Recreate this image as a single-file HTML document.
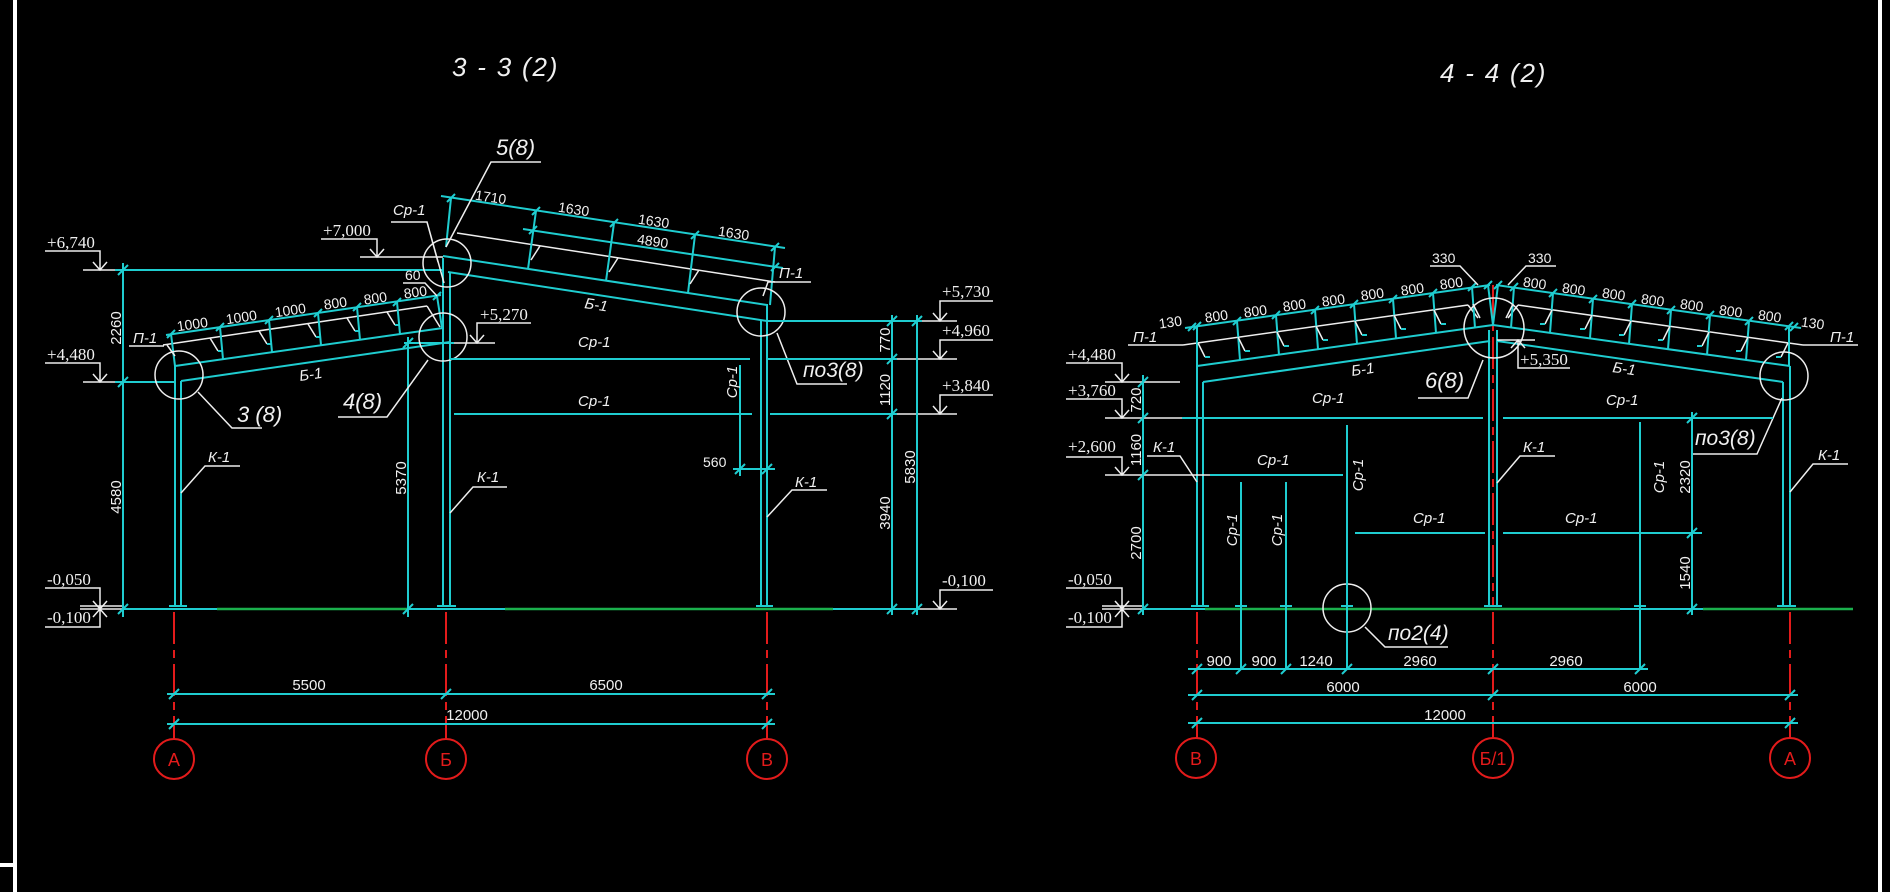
<!DOCTYPE html>
<html><head><meta charset="utf-8">
<style>
html,body{margin:0;padding:0;background:#000;}
svg{display:block}
.c{stroke:#1fcdd0;stroke-width:2;fill:none}
.w{stroke:#eeeeee;stroke-width:1.5;fill:none}
.r{stroke:#e31b1b;stroke-width:2;fill:none}
.rd{stroke:#e31b1b;stroke-width:2;fill:none;stroke-dasharray:32 6 8 6}
.g{stroke:#1bb04d;stroke-width:2.5;fill:none}
text{fill:#f0f0f0;font-family:"Liberation Sans","DejaVu Sans",sans-serif}
.d{font-size:15px}
.ds{font-size:14px}
.l{font-size:15px;font-style:italic}
.b{font-size:22px;font-style:italic}
.e{font-family:"Liberation Serif",serif;font-size:17px}
.ti{font-size:26px;font-style:italic;letter-spacing:1.8px}
.ax{font-size:18px;fill:#e31b1b}
</style></head><body>
<svg width="1890" height="892" viewBox="0 0 1890 892" xmlns="http://www.w3.org/2000/svg">
<rect x="0" y="0" width="1890" height="892" fill="#000"/>
<!-- frame -->
<rect x="13" y="0" width="4" height="892" fill="#fff"/>
<rect x="0" y="863" width="13" height="4" fill="#fff"/>
<rect x="1878" y="0" width="4" height="892" fill="#fff"/>

<!-- titles -->
<text class="ti" x="452" y="76">3 - 3 (2)</text>
<text class="ti" x="1440" y="82">4 - 4 (2)</text>

<!-- ================= LEFT DIAGRAM 3-3 ================= -->
<!-- ground -->
<line class="w" x1="80" y1="606" x2="123" y2="606"/>
<line class="w" x1="80" y1="609" x2="123" y2="609"/>
<line class="c" x1="123" y1="609" x2="217" y2="609"/>
<line class="g" x1="217" y1="609" x2="408" y2="609"/>
<line class="c" x1="408" y1="609" x2="505" y2="609"/>
<line class="g" x1="505" y1="609" x2="833" y2="609"/>
<line class="c" x1="833" y1="609" x2="920" y2="609"/>
<line class="w" x1="920" y1="609" x2="957" y2="609"/>

<!-- columns -->
<line class="c" x1="175" y1="366" x2="175" y2="606"/>
<line class="c" x1="181" y1="381" x2="181" y2="606"/>
<line class="c" x1="169" y1="606" x2="187" y2="606"/>
<line class="c" x1="443" y1="258" x2="443" y2="606"/>
<line class="c" x1="450" y1="272" x2="450" y2="606"/>
<line class="c" x1="437" y1="606" x2="456" y2="606"/>
<line class="c" x1="761" y1="320" x2="761" y2="606"/>
<line class="c" x1="767" y1="304" x2="767" y2="606"/>
<line class="c" x1="756" y1="606" x2="773" y2="606"/>

<!-- axes -->
<line class="rd" x1="174" y1="612" x2="174" y2="739"/>
<line class="rd" x1="446" y1="612" x2="446" y2="739"/>
<line class="rd" x1="767" y1="612" x2="767" y2="739"/>
<circle class="r" cx="174" cy="759" r="20"/>
<circle class="r" cx="446" cy="759" r="20"/>
<circle class="r" cx="767" cy="759" r="20"/>
<text class="ax" x="174" y="766" text-anchor="middle">А</text>
<text class="ax" x="446" y="766" text-anchor="middle">Б</text>
<text class="ax" x="767" y="766" text-anchor="middle">В</text>

<!-- left vertical dims -->
<line class="c" x1="123" y1="263" x2="123" y2="617"/>
<path class="c" d="M118,275 L128,265 M118,387 L128,377 M118,614 L128,604"/>
<line class="c" x1="115" y1="270" x2="443" y2="270"/>
<line class="w" x1="83" y1="270" x2="115" y2="270"/>
<line class="c" x1="115" y1="382" x2="175" y2="382"/>
<line class="w" x1="83" y1="382" x2="115" y2="382"/>
<text class="d" text-anchor="middle" transform="translate(121,328) rotate(-90)">2260</text>
<text class="d" text-anchor="middle" transform="translate(121,497) rotate(-90)">4580</text>

<!-- elevations left -->
<text class="e" x="47" y="248">+6,740</text>
<path class="w" d="M45,251 H100 V270 M93,262 L100,270 L107,262"/>
<text class="e" x="47" y="360">+4,480</text>
<path class="w" d="M45,363 H100 V382 M93,374 L100,382 L107,374"/>
<text class="e" x="47" y="585">-0,050</text>
<path class="w" d="M45,588 H100 V609 M93,601 L100,609 L107,601"/>
<text class="e" x="47" y="623">-0,100</text>
<path class="w" d="M45,627 H100 V609 M93,617 L100,609 L107,617"/>

<!-- +7,000 -->
<text class="e" x="323" y="236">+7,000</text>
<path class="w" d="M321,239 H377 V257 M370,249 L377,257 L384,249"/>
<line class="w" x1="360" y1="257" x2="443" y2="257"/>

<!-- Cp-1 top label -->
<text class="l" x="393" y="215">Ср-1</text>
<path class="w" d="M391,222 H427 L438,262 M427,222 L444,283"/>

<!-- left rafter -->
<line class="c" x1="175" y1="366" x2="443" y2="328"/>
<line class="c" x1="181" y1="381" x2="450" y2="342"/>
<line class="w" x1="163" y1="345" x2="427" y2="306"/>
<line class="w" x1="427" y1="306" x2="440" y2="327"/>
<line class="c" x1="166" y1="335" x2="441" y2="295"/>
<path class="c" d="M167,338 L175,330 M216,331 L224,323 M265,324 L273,316 M314,317 L322,309 M353,311 L361,303 M393,306 L401,298 M433,300 L441,292"/>
<path class="c" d="M171,334 L175,366 M220,327 L223,359 M269,320 L272,352 M318,313 L321,345 M357,307 L360,340 M397,302 L400,334 M437,296 L442,328"/>
<path class="w" d="M167,345 L175,356 M210,338 L218,351 M259,331 L267,344 M308,324 L316,337 M347,318 L355,331 M387,312 L395,325"/>
<path class="c" d="M218,351 H223 M267,344 H272 M316,337 H321 M355,331 H360 M395,325 H400"/>
<text class="ds" text-anchor="middle" transform="translate(193,329) rotate(-8.1)">1000</text>
<text class="ds" text-anchor="middle" transform="translate(242,322) rotate(-8.1)">1000</text>
<text class="ds" text-anchor="middle" transform="translate(291,315) rotate(-8.1)">1000</text>
<text class="ds" text-anchor="middle" transform="translate(336,308) rotate(-8.1)">800</text>
<text class="ds" text-anchor="middle" transform="translate(376,303) rotate(-8.1)">800</text>
<text class="ds" text-anchor="middle" transform="translate(416,297) rotate(-8.1)">800</text>
<text class="ds" x="405" y="280">60</text>
<path class="w" d="M403,283 H425 L437,296"/>
<text class="l" x="133" y="343">П-1</text>
<line class="w" x1="129" y1="346" x2="164" y2="346"/>
<text class="l" transform="translate(300,381) rotate(-8.1)">Б-1</text>

<!-- right rafter -->
<line class="c" x1="443" y1="256" x2="767" y2="305"/>
<line class="c" x1="448" y1="272" x2="767" y2="321"/>
<line class="w" x1="457" y1="233" x2="775" y2="282"/>
<line class="c" x1="441" y1="196" x2="785" y2="248"/>
<line class="c" x1="523" y1="229" x2="783" y2="268"/>
<path class="c" d="M447,202 L455,194 M532,215 L540,207 M610,227 L618,219 M691,239 L699,231 M771,251 L779,243 M529,234 L537,226 M771,271 L779,263"/>
<path class="c" d="M451,198 L446,247 M536,211 L528,269 M614,223 L606,281 M695,235 L688,293 M775,247 L770,305"/>
<path class="w" d="M540,246 L531,260 M618,258 L609,272 M699,270 L690,284"/>
<text class="ds" text-anchor="middle" transform="translate(490,202) rotate(8.6)">1710</text>
<text class="ds" text-anchor="middle" transform="translate(573,214) rotate(8.6)">1630</text>
<text class="ds" text-anchor="middle" transform="translate(653,226) rotate(8.6)">1630</text>
<text class="ds" text-anchor="middle" transform="translate(733,238) rotate(8.6)">1630</text>
<text class="ds" text-anchor="middle" transform="translate(652,246) rotate(8.6)">4890</text>
<text class="l" transform="translate(584,308) rotate(8.6)">Б-1</text>
<text class="l" x="779" y="278">П-1</text>
<path class="w" d="M811,282 H768 L763,296"/>

<!-- +5,270 -->
<text class="e" x="480" y="320">+5,270</text>
<path class="w" d="M531,323 H477 V343 M470,335 L477,343 L484,335"/>
<line class="w" x1="454" y1="343" x2="495" y2="343"/>
<line class="c" x1="404" y1="343" x2="454" y2="343"/>
<line class="c" x1="408" y1="337" x2="408" y2="617"/>
<path class="c" d="M403,348 L413,338 M403,614 L413,604"/>
<text class="d" text-anchor="middle" transform="translate(406,478) rotate(-90)">5370</text>

<!-- circles & labels -->
<circle class="w" cx="179" cy="375" r="24"/>
<circle class="w" cx="447" cy="263" r="24"/>
<circle class="w" cx="443" cy="337" r="24"/>
<circle class="w" cx="761" cy="312" r="24"/>
<text class="b" x="237" y="422">3 (8)</text>
<path class="w" d="M198,392 L232,428 H262"/>
<text class="b" x="343" y="409">4(8)</text>
<path class="w" d="M338,417 H387 L428,360"/>
<text class="b" x="496" y="155">5(8)</text>
<path class="w" d="M541,162 H491 L446,247"/>
<text class="b" x="803" y="377" style="font-size:21px">по3(8)</text>
<path class="w" d="M777,333 L797,384 H847"/>

<!-- Cp-1 bracing -->
<line class="c" x1="450" y1="359" x2="750" y2="359"/>
<line class="c" x1="768" y1="359" x2="897" y2="359"/>
<line class="w" x1="897" y1="359" x2="957" y2="359"/>
<line class="c" x1="454" y1="414" x2="752" y2="414"/>
<line class="c" x1="770" y1="414" x2="897" y2="414"/>
<line class="w" x1="897" y1="414" x2="957" y2="414"/>
<line class="c" x1="767" y1="321" x2="922" y2="321"/>
<line class="w" x1="922" y1="321" x2="957" y2="321"/>
<text class="l" x="578" y="347">Ср-1</text>
<text class="l" x="578" y="406">Ср-1</text>
<line class="c" x1="740" y1="365" x2="740" y2="476"/>
<text class="l" text-anchor="middle" transform="translate(737,382) rotate(-90)">Ср-1</text>
<line class="c" x1="733" y1="469" x2="775" y2="469"/>
<path class="c" d="M735,474 L745,464 M762,474 L772,464"/>
<text class="ds" x="703" y="467">560</text>

<!-- right dims left diagram -->
<line class="c" x1="892" y1="315" x2="892" y2="615"/>
<path class="c" d="M887,326 L897,316 M887,364 L897,354 M887,419 L897,409 M887,614 L897,604"/>
<line class="c" x1="917" y1="315" x2="917" y2="615"/>
<path class="c" d="M912,326 L922,316 M912,614 L922,604"/>
<text class="d" text-anchor="middle" transform="translate(890,340) rotate(-90)">770</text>
<text class="d" text-anchor="middle" transform="translate(890,390) rotate(-90)">1120</text>
<text class="d" text-anchor="middle" transform="translate(890,513) rotate(-90)">3940</text>
<text class="d" text-anchor="middle" transform="translate(915,467) rotate(-90)">5830</text>
<text class="e" x="942" y="297">+5,730</text>
<path class="w" d="M993,301 H940 V321 M933,313 L940,321 L947,313"/>
<text class="e" x="942" y="336">+4,960</text>
<path class="w" d="M993,340 H940 V359 M933,351 L940,359 L947,351"/>
<text class="e" x="942" y="391">+3,840</text>
<path class="w" d="M993,395 H940 V414 M933,406 L940,414 L947,406"/>
<text class="e" x="942" y="586">-0,100</text>
<path class="w" d="M993,590 H940 V609 M933,601 L940,609 L947,601"/>

<!-- K-1 labels -->
<text class="l" x="208" y="462">К-1</text>
<path class="w" d="M240,466 H205 L181,493"/>
<text class="l" x="477" y="482">К-1</text>
<path class="w" d="M507,487 H473 L450,513"/>
<text class="l" x="795" y="487">К-1</text>
<path class="w" d="M827,490 H792 L767,517"/>

<!-- bottom dims left -->
<line class="c" x1="167" y1="694" x2="775" y2="694"/>
<path class="c" d="M169,699 L179,689 M441,699 L451,689 M762,699 L772,689"/>
<text class="d" x="309" y="690" text-anchor="middle">5500</text>
<text class="d" x="606" y="690" text-anchor="middle">6500</text>
<line class="c" x1="167" y1="724" x2="775" y2="724"/>
<path class="c" d="M169,729 L179,719 M762,729 L772,719"/>
<text class="d" x="467" y="720" text-anchor="middle">12000</text>

<!-- ================= RIGHT DIAGRAM 4-4 ================= -->
<line class="w" x1="1102" y1="606" x2="1143" y2="606"/>
<line class="w" x1="1102" y1="609" x2="1143" y2="609"/>
<line class="c" x1="1143" y1="609" x2="1205" y2="609"/>
<line class="g" x1="1205" y1="609" x2="1620" y2="609"/>
<line class="c" x1="1620" y1="609" x2="1703" y2="609"/>
<line class="g" x1="1703" y1="609" x2="1853" y2="609"/>

<!-- columns -->
<line class="c" x1="1197" y1="366" x2="1197" y2="606"/>
<line class="c" x1="1203" y1="382" x2="1203" y2="606"/>
<line class="c" x1="1191" y1="606" x2="1209" y2="606"/>
<line class="c" x1="1489" y1="330" x2="1489" y2="606"/>
<line class="c" x1="1497" y1="330" x2="1497" y2="606"/>
<line class="rd" x1="1493" y1="285" x2="1493" y2="606"/>
<line class="c" x1="1484" y1="606" x2="1502" y2="606"/>
<line class="c" x1="1783" y1="382" x2="1783" y2="606"/>
<line class="c" x1="1790" y1="366" x2="1790" y2="606"/>
<line class="c" x1="1777" y1="606" x2="1796" y2="606"/>

<!-- axes -->
<line class="rd" x1="1197" y1="612" x2="1197" y2="738"/>
<line class="rd" x1="1493" y1="612" x2="1493" y2="738"/>
<line class="rd" x1="1790" y1="612" x2="1790" y2="738"/>
<circle class="r" cx="1196" cy="758" r="20"/>
<circle class="r" cx="1493" cy="758" r="20"/>
<circle class="r" cx="1790" cy="758" r="20"/>
<text class="ax" x="1196" y="765" text-anchor="middle">В</text>
<text class="ax" x="1493" y="765" text-anchor="middle">Б/1</text>
<text class="ax" x="1790" y="765" text-anchor="middle">А</text>

<!-- beams -->
<line class="c" x1="1197" y1="366" x2="1493" y2="325"/>
<line class="c" x1="1203" y1="382" x2="1490" y2="341"/>
<line class="c" x1="1493" y1="325" x2="1790" y2="366"/>
<line class="c" x1="1497" y1="341" x2="1783" y2="382"/>
<line class="w" x1="1183" y1="345" x2="1468" y2="305"/>
<line class="w" x1="1468" y1="305" x2="1478" y2="318"/>
<line class="w" x1="1518" y1="305" x2="1803" y2="345"/>
<line class="w" x1="1518" y1="305" x2="1508" y2="318"/>
<line class="w" x1="1803" y1="345" x2="1858" y2="345"/>
<line class="w" x1="1128" y1="345" x2="1183" y2="345"/>
<text class="l" x="1133" y="342">П-1</text>
<text class="l" x="1830" y="342">П-1</text>

<!-- dims along roof -->
<line class="c" x1="1185" y1="328" x2="1490" y2="285"/>
<line class="c" x1="1496" y1="285" x2="1801" y2="328"/>
<path class="c" d="M1188,331 L1196,323 M1193,330 L1201,322 M1233,325 L1241,317 M1272,319 L1280,311 M1311,314 L1319,306 M1350,308 L1358,300 M1389,303 L1397,295 M1429,297 L1437,289 M1468,291 L1476,283 M1484,289 L1492,281"/>
<path class="c" d="M1494,289 L1502,281 M1510,291 L1518,283 M1549,297 L1557,289 M1589,303 L1597,295 M1628,308 L1636,300 M1667,314 L1675,306 M1706,319 L1714,311 M1745,325 L1753,317 M1785,330 L1793,322 M1790,331 L1798,323"/>
<path class="c" d="M1488,285 L1493,325 M1498,285 L1493,325"/>
<!-- purlins left -->
<path class="c" d="M1197,326 L1197,366 M1237,321 L1240,360 M1276,315 L1279,355 M1315,310 L1318,349 M1354,304 L1357,344 M1393,299 L1396,338 M1433,293 L1436,333 M1472,287 L1475,328"/>
<path class="w" d="M1198,343 L1205,357 M1238,337 L1245,351 M1277,332 L1284,346 M1316,326 L1323,340 M1355,321 L1362,335 M1394,315 L1401,329 M1434,310 L1441,324 M1473,304 L1480,318"/>
<path class="c" d="M1205,357 H1210 M1245,351 H1250 M1284,346 H1289 M1323,340 H1328 M1362,335 H1367 M1401,329 H1406 M1441,324 H1446"/>
<!-- purlins right -->
<path class="c" d="M1789,326 L1789,366 M1749,321 L1746,360 M1710,315 L1707,355 M1671,310 L1668,349 M1632,304 L1629,344 M1593,299 L1590,338 M1553,293 L1550,333 M1514,287 L1511,328"/>
<path class="w" d="M1788,343 L1781,357 M1748,337 L1741,351 M1709,332 L1702,346 M1670,326 L1663,340 M1631,321 L1624,335 M1592,315 L1585,329 M1552,310 L1545,324 M1513,304 L1506,318"/>
<path class="c" d="M1781,357 H1776 M1741,351 H1736 M1702,346 H1697 M1663,340 H1658 M1624,335 H1619 M1585,329 H1580 M1545,324 H1540"/>
<text class="ds" text-anchor="middle" transform="translate(1171,327) rotate(-8.1)">130</text>
<text class="ds" text-anchor="middle" transform="translate(1217,321) rotate(-8.1)">800</text>
<text class="ds" text-anchor="middle" transform="translate(1256,316) rotate(-8.1)">800</text>
<text class="ds" text-anchor="middle" transform="translate(1295,310) rotate(-8.1)">800</text>
<text class="ds" text-anchor="middle" transform="translate(1334,305) rotate(-8.1)">800</text>
<text class="ds" text-anchor="middle" transform="translate(1373,299) rotate(-8.1)">800</text>
<text class="ds" text-anchor="middle" transform="translate(1413,294) rotate(-8.1)">800</text>
<text class="ds" text-anchor="middle" transform="translate(1452,288) rotate(-8.1)">800</text>
<text class="ds" text-anchor="middle" transform="translate(1534,288) rotate(8.1)">800</text>
<text class="ds" text-anchor="middle" transform="translate(1573,294) rotate(8.1)">800</text>
<text class="ds" text-anchor="middle" transform="translate(1613,299) rotate(8.1)">800</text>
<text class="ds" text-anchor="middle" transform="translate(1652,305) rotate(8.1)">800</text>
<text class="ds" text-anchor="middle" transform="translate(1691,310) rotate(8.1)">800</text>
<text class="ds" text-anchor="middle" transform="translate(1730,316) rotate(8.1)">800</text>
<text class="ds" text-anchor="middle" transform="translate(1769,321) rotate(8.1)">800</text>
<text class="ds" text-anchor="middle" transform="translate(1812,328) rotate(8.1)">130</text>
<text class="ds" x="1432" y="263">330</text>
<path class="w" d="M1430,266 H1460 L1478,285"/>
<text class="ds" x="1528" y="263">330</text>
<path class="w" d="M1556,266 H1526 L1508,285"/>
<text class="l" transform="translate(1352,376) rotate(-8.1)">Б-1</text>
<text class="l" transform="translate(1612,372) rotate(8.1)">Б-1</text>

<!-- circles -->
<circle class="w" cx="1494" cy="328" r="30"/>
<circle class="w" cx="1784" cy="376" r="24"/>
<circle class="w" cx="1347" cy="608" r="24"/>
<text class="b" x="1425" y="388">6(8)</text>
<path class="w" d="M1418,398 H1468 L1483,360"/>
<text class="b" x="1695" y="445" style="font-size:21px">по3(8)</text>
<path class="w" d="M1693,454 H1757 L1782,398"/>
<text class="b" x="1388" y="640" style="font-size:21px">по2(4)</text>
<path class="w" d="M1365,627 L1385,647 H1448"/>
<text class="e" x="1520" y="365">+5,350</text>
<path class="w" d="M1570,368 H1518 V340 M1511,348 L1518,340 L1525,348"/>
<line class="w" x1="1497" y1="340" x2="1535" y2="340"/>

<!-- left elevations -->
<text class="e" x="1068" y="360">+4,480</text>
<path class="w" d="M1066,363 H1122 V382 M1115,374 L1122,382 L1129,374"/>
<line class="w" x1="1105" y1="382" x2="1180" y2="382"/>
<text class="e" x="1068" y="396">+3,760</text>
<path class="w" d="M1066,399 H1122 V418 M1115,410 L1122,418 L1129,410"/>
<line class="w" x1="1105" y1="418" x2="1182" y2="418"/>
<text class="e" x="1068" y="452">+2,600</text>
<path class="w" d="M1066,457 H1122 V475 M1115,467 L1122,475 L1129,467"/>
<line class="w" x1="1105" y1="475" x2="1210" y2="475"/>
<text class="e" x="1068" y="585">-0,050</text>
<path class="w" d="M1066,588 H1122 V609 M1115,601 L1122,609 L1129,601"/>
<text class="e" x="1068" y="623">-0,100</text>
<path class="w" d="M1066,627 H1122 V609 M1115,617 L1122,609 L1129,617"/>
<line class="c" x1="1143" y1="375" x2="1143" y2="615"/>
<path class="c" d="M1138,387 L1148,377 M1138,423 L1148,413 M1138,480 L1148,470 M1138,614 L1148,604"/>
<text class="d" text-anchor="middle" transform="translate(1141,400) rotate(-90)">720</text>
<text class="d" text-anchor="middle" transform="translate(1141,450) rotate(-90)">1160</text>
<text class="d" text-anchor="middle" transform="translate(1141,543) rotate(-90)">2700</text>

<!-- Cp-1 members -->
<line class="c" x1="1182" y1="418" x2="1483" y2="418"/>
<line class="c" x1="1440" y1="418" x2="1483" y2="418"/>
<line class="c" x1="1503" y1="418" x2="1773" y2="418"/>
<line class="c" x1="1210" y1="475" x2="1343" y2="475"/>
<line class="c" x1="1355" y1="533" x2="1485" y2="533"/>
<line class="c" x1="1503" y1="533" x2="1702" y2="533"/>
<line class="c" x1="1241" y1="482" x2="1241" y2="669"/>
<line class="c" x1="1286" y1="482" x2="1286" y2="669"/>
<line class="c" x1="1347" y1="425" x2="1347" y2="669"/>
<line class="c" x1="1640" y1="422" x2="1640" y2="669"/>
<path class="c" d="M1235,606 H1247 M1280,606 H1292 M1341,606 H1353 M1634,606 H1646"/>
<text class="l" x="1312" y="403">Ср-1</text>
<text class="l" x="1257" y="465">Ср-1</text>
<text class="l" x="1413" y="523">Ср-1</text>
<text class="l" x="1606" y="405">Ср-1</text>
<text class="l" x="1565" y="523">Ср-1</text>
<text class="l" text-anchor="middle" transform="translate(1237,530) rotate(-90)">Ср-1</text>
<text class="l" text-anchor="middle" transform="translate(1282,530) rotate(-90)">Ср-1</text>
<text class="l" text-anchor="middle" transform="translate(1363,475) rotate(-90)">Ср-1</text>
<text class="l" text-anchor="middle" transform="translate(1664,477) rotate(-90)">Ср-1</text>
<line class="c" x1="1692" y1="412" x2="1692" y2="615"/>
<path class="c" d="M1687,423 L1697,413 M1687,538 L1697,528 M1687,614 L1697,604"/>
<text class="d" text-anchor="middle" transform="translate(1690,477) rotate(-90)">2320</text>
<text class="d" text-anchor="middle" transform="translate(1690,573) rotate(-90)">1540</text>

<!-- K-1 -->
<text class="l" x="1153" y="452">К-1</text>
<path class="w" d="M1147,456 H1180 L1197,482"/>
<text class="l" x="1523" y="452">К-1</text>
<path class="w" d="M1555,456 H1520 L1497,483"/>
<text class="l" x="1818" y="460">К-1</text>
<path class="w" d="M1848,464 H1813 L1790,492"/>

<!-- bottom dims right -->
<line class="c" x1="1188" y1="669" x2="1648" y2="669"/>
<path class="c" d="M1192,674 L1202,664 M1236,674 L1246,664 M1281,674 L1291,664 M1342,674 L1352,664 M1488,674 L1498,664 M1635,674 L1645,664"/>
<text class="d" x="1219" y="666" text-anchor="middle">900</text>
<text class="d" x="1264" y="666" text-anchor="middle">900</text>
<text class="d" x="1316" y="666" text-anchor="middle">1240</text>
<text class="d" x="1420" y="666" text-anchor="middle">2960</text>
<text class="d" x="1566" y="666" text-anchor="middle">2960</text>
<line class="c" x1="1188" y1="695" x2="1798" y2="695"/>
<path class="c" d="M1192,700 L1202,690 M1488,700 L1498,690 M1785,700 L1795,690"/>
<text class="d" x="1343" y="692" text-anchor="middle">6000</text>
<text class="d" x="1640" y="692" text-anchor="middle">6000</text>
<line class="c" x1="1188" y1="723" x2="1798" y2="723"/>
<path class="c" d="M1192,728 L1202,718 M1785,728 L1795,718"/>
<text class="d" x="1445" y="720" text-anchor="middle">12000</text>
</svg>
</body></html>
